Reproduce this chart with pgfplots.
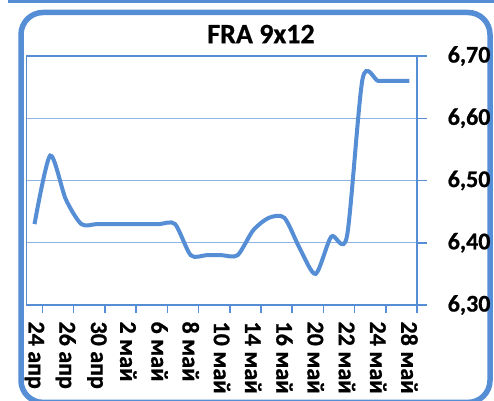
\documentclass[border=0pt]{standalone}
\usepackage{pgfplots}
\pgfplotsset{compat=1.18}
\usepackage{fontspec}
\setmainfont{Carlito}[BoldFeatures={FakeBold=0.8}]
\definecolor{lineblue}{RGB}{85,142,213}
\definecolor{gridblue}{RGB}{142,180,227}
\definecolor{axisblue}{RGB}{85,142,213}
\begin{document}
\begin{tikzpicture}[x=1pt,y=1pt]
\useasboundingbox (0,0) rectangle (494,400);
\clip (0,0) rectangle (494,400);
\fill[white] (0,0) rectangle (494,400);
\fill[lineblue] (8,396.7) rectangle (494,400);
\draw[lineblue, line width=5.5pt, rounded corners=22pt] (21,-2.4) rectangle (490,387.5);
\node[font=\fontsize{28}{30}\selectfont\bfseries] at (261,366) {FRA 9x12};
\begin{axis}[
  at={(26.7pt,95pt)}, anchor=south west,
  scale only axis, width=390.5pt, height=249pt,
  xmin=-0.5, xmax=24.5, ymin=6.3, ymax=6.7,
  axis line style={axisblue, line width=1.5pt},
  ytick pos=right, xtick pos=bottom,
  tick align=outside,
  major tick length=10pt, minor tick length=8pt,
  tick style={axisblue, line width=1.5pt},
  every major x tick/.append style={draw=none},
  xtick={0,2,...,24},
  minor xtick={0.5,2.5,...,24.5},
  xticklabels={24 апр, 26 апр, 30 апр, 2 май, 6 май, 8 май, 10 май, 14 май, 16 май, 20 май, 22 май, 24 май, 28 май},
  xticklabel style={rotate=-90, anchor=west, xshift=3pt, font=\fontsize{24}{26}\selectfont\bfseries},
  ytick={6.3,6.4,6.5,6.6,6.7},
  yticklabels={{6,30},{6,40},{6,50},{6,60},{6,70}},
  yticklabel style={anchor=west, xshift=17pt, font=\fontsize{24}{26}\selectfont\bfseries},
  ymajorgrids, major grid style={gridblue, line width=1.3pt},
  clip=false,
]
\addplot[lineblue, line width=4pt, smooth, tension=0.45, no marks] coordinates {
 (0,6.43) (1,6.54) (2,6.47) (3,6.43) (4,6.43) (5,6.43) (6,6.43) (7,6.43)
 (8,6.43) (9,6.43) (10,6.38) (11,6.38) (12,6.38) (13,6.38) (14,6.42)
 (15,6.44) (16,6.44) (17,6.39) (18,6.35) (19,6.41) (20,6.41)
 (21,6.663) (22,6.66) (23,6.66) (24,6.66)
};
\end{axis}
\end{tikzpicture}
\end{document}
